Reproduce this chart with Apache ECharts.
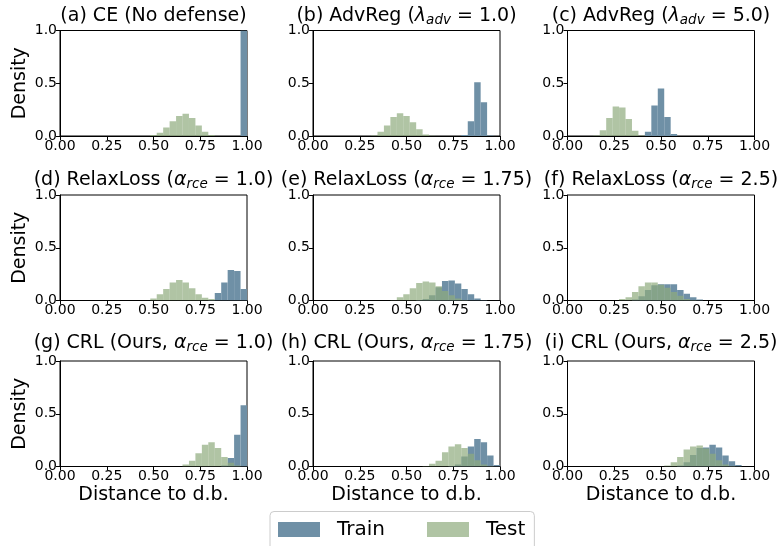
<!DOCTYPE html>
<html>
<head>
<meta charset="utf-8">
<script src="https://cdn.jsdelivr.net/npm/echarts@6/dist/echarts.min.js"></script>
<style>
html,body{margin:0;padding:0;background:#fff;}
#chart{width:778px;height:546px;}
</style>
</head>
<body>
<div id="chart"></div>
<script>
// ---- data: histogram heights per bin (29 bins on [0,1]) ----
const binCount = 29;
const xTicks = ['0.00', '0.25', '0.50', '0.75', '1.00'];
const yTicks = ['0.0', '0.5', '1.0'];
const seriesNames = ['Train', 'Test'];

const aTrain = [0,0,0,0,0,0,0,0,0,0, 0,0,0,0,0,0,0,0,0,0, 0,0,0,0,0,0,0,0,1.0];
const aTest  = [0,0,0,0,0,0,0,0,0,0, 0,0,0,0,0.01,0.03,0.08,0.14,0.19,0.21, 0.17,0.10,0.04,0.01,0,0,0,0,0];

const bTrain = [0,0,0,0,0,0,0,0,0,0, 0,0,0,0,0,0,0,0,0,0, 0,0,0,0.01,0.14,0.51,0.32,0.005,0];
const bTest  = [0,0,0,0,0,0,0,0,0,0.005, 0.04,0.10,0.18,0.215,0.19,0.13,0.065,0.015,0.003,0, 0,0,0,0,0,0,0,0,0];

const cTrain = [0,0,0,0,0,0,0,0,0,0, 0,0,0.04,0.29,0.45,0.18,0.02,0,0,0, 0,0,0,0,0,0,0,0,0];
const cTest  = [0,0,0,0,0.005,0.055,0.17,0.28,0.27,0.16, 0.05,0.005,0,0,0,0,0,0,0,0, 0,0,0,0,0,0,0,0,0];

const dTrain = [0,0,0,0,0,0,0,0,0,0, 0,0,0,0,0,0,0,0,0,0, 0,0,0,0.005,0.07,0.17,0.29,0.28,0.11];
const dTest  = [0,0,0,0,0,0,0,0,0,0, 0,0,0,0,0.02,0.06,0.11,0.17,0.195,0.17, 0.115,0.06,0.025,0.015,0,0,0,0,0];

const eTrain = [0,0,0,0,0,0,0,0,0,0, 0,0,0,0,0,0,0.005,0.015,0.05,0.125, 0.185,0.19,0.16,0.11,0.06,0.02,0.005,0,0];
const eTest  = [0,0,0,0,0,0,0,0,0,0, 0,0,0.005,0.03,0.06,0.115,0.165,0.18,0.17,0.135, 0.09,0.05,0.02,0.005,0,0,0,0,0];

const fTrain = [0,0,0,0,0,0,0,0,0,0, 0.01,0.04,0.10,0.145,0.155,0.155,0.155,0.10,0.065,0.03, 0.01,0,0,0,0,0,0,0,0];
const fTest  = [0,0,0,0,0,0,0,0,0.015,0.03, 0.08,0.135,0.17,0.17,0.15,0.12,0.08,0.045,0.015,0.005, 0,0,0,0,0,0,0,0,0];

const gTrain = [0,0,0,0,0,0,0,0,0,0, 0,0,0,0,0,0,0,0,0,0, 0,0,0,0,0,0.01,0.08,0.30,0.58];
const gTest  = [0,0,0,0,0,0,0,0,0,0, 0,0,0,0,0,0,0,0,0,0.02, 0.055,0.125,0.205,0.23,0.175,0.09,0.035,0.01,0];

const hTrain = [0,0,0,0,0,0,0,0,0,0, 0,0,0,0,0,0,0,0,0,0, 0,0.005,0.02,0.095,0.19,0.26,0.23,0.105,0.015];
const hTest  = [0,0,0,0,0,0,0,0,0,0, 0,0,0,0,0,0,0,0.005,0.025,0.055, 0.135,0.19,0.21,0.175,0.12,0.06,0.02,0.005,0];

const iTrain = [0,0,0,0,0,0,0,0,0,0, 0,0,0,0,0,0,0,0.01,0.04,0.11, 0.175,0.18,0.205,0.18,0.105,0.05,0.015,0,0];
const iTest  = [0,0,0,0,0,0,0,0,0,0, 0,0,0,0,0,0.01,0.04,0.09,0.16,0.19, 0.2,0.17,0.12,0.06,0.02,0.005,0,0,0];

const panels = [
  {title: '(a) CE (No defense)', train: aTrain, test: aTest},
  {title: '(b) AdvReg ({it|λ}{sub|adv} = 1.0)', train: bTrain, test: bTest},
  {title: '(c) AdvReg ({it|λ}{sub|adv} = 5.0)', train: cTrain, test: cTest},
  {title: '(d) RelaxLoss ({it|α}{sub|rce} = 1.0)', train: dTrain, test: dTest},
  {title: '(e) RelaxLoss ({it|α}{sub|rce} = 1.75)', train: eTrain, test: eTest},
  {title: '(f) RelaxLoss ({it|α}{sub|rce} = 2.5)', train: fTrain, test: fTest},
  {title: '(g) CRL (Ours, {it|α}{sub|rce} = 1.0)', train: gTrain, test: gTest},
  {title: '(h) CRL (Ours, {it|α}{sub|rce} = 1.75)', train: hTrain, test: hTest},
  {title: '(i) CRL (Ours, {it|α}{sub|rce} = 2.5)', train: iTrain, test: iTest}
];

// ---- layout & style ----
const FONT = 'DejaVu Sans';
const TRAIN_COLOR = '#6f90a6';
const TEST_COLOR = '#8eab7d';
const TEST_OPACITY = 0.7;
const colLeft = [60, 313, 567.5];
const rowTop = [30.5, 195, 361];
const gw = 187, gh = 105.5;
const titleY = [16, 180, 343];

const edges = [];
for (let k = 0; k <= binCount; k++) edges.push(k / binCount);

function toData(arr) {
  const out = [];
  arr.forEach((h, i) => { if (h > 0) out.push([edges[i], edges[i + 1], h]); });
  return out;
}

function renderItem(params, api) {
  const p0 = api.coord([api.value(0), 0]);
  const p1 = api.coord([api.value(1), Math.min(api.value(2), 1)]);
  return {
    type: 'rect',
    shape: {x: p0[0], y: p1[1], width: p1[0] - p0[0], height: p0[1] - p1[1]},
    style: api.style()
  };
}

const grid = [], xAxis = [], yAxis = [], series = [], graphic = [];
const richTitle = {
  it: {fontFamily: FONT, fontStyle: 'italic', fontSize: 19, color: '#000'},
  sub: {fontFamily: FONT, fontStyle: 'italic', fontSize: 13.5, color: '#000', padding: [8, 0, 0, 0]}
};

panels.forEach((p, idx) => {
  const r = Math.floor(idx / 3), c = idx % 3;
  grid.push({left: colLeft[c], top: rowTop[r], width: gw, height: gh,
    show: true, borderColor: '#000', borderWidth: 1, backgroundColor: 'transparent'});
  xAxis.push({type: 'value', gridIndex: idx, min: 0, max: 1, interval: 0.25,
    name: r === 2 ? 'Distance to d.b.' : '',
    nameLocation: 'middle', nameGap: 19,
    nameTextStyle: {fontFamily: FONT, fontSize: 19, color: '#000'},
    axisLine: {show: true, onZero: false, lineStyle: {color: '#000', width: 1}},
    axisTick: {show: true, length: 4, lineStyle: {color: '#000'}},
    splitLine: {show: false},
    axisLabel: {show: true, color: '#000', fontFamily: FONT, fontSize: 14, margin: 3,
      showMinLabel: true, showMaxLabel: true,
      formatter: v => xTicks[Math.round(v * 4)]}
  });
  yAxis.push({type: 'value', gridIndex: idx, min: 0, max: 1, interval: 0.5,
    name: c === 0 ? 'Density' : '',
    nameLocation: 'middle', nameGap: 30, nameRotate: 90,
    nameTextStyle: {fontFamily: FONT, fontSize: 19, color: '#000'},
    axisLine: {show: true, onZero: false, lineStyle: {color: '#000', width: 1}},
    axisTick: {show: true, length: 4, lineStyle: {color: '#000'}},
    splitLine: {show: false},
    axisLabel: {show: true, color: '#000', fontFamily: FONT, fontSize: 14, margin: 3,
      showMinLabel: true, showMaxLabel: true,
      formatter: v => yTicks[Math.round(v * 2)]}
  });
  series.push({type: 'custom', name: seriesNames[0], xAxisIndex: idx, yAxisIndex: idx,
    renderItem: renderItem, clip: true, encode: {x: [0, 1], y: 2},
    itemStyle: {color: TRAIN_COLOR}, data: toData(p.train), silent: true});
  series.push({type: 'custom', name: seriesNames[1], xAxisIndex: idx, yAxisIndex: idx,
    renderItem: renderItem, clip: true, encode: {x: [0, 1], y: 2},
    itemStyle: {color: TEST_COLOR, opacity: TEST_OPACITY}, data: toData(p.test), silent: true});
  graphic.push({type: 'text', x: colLeft[c] + gw / 2, y: titleY[r],
    style: {text: p.title, fontFamily: FONT, fontSize: 19, fill: '#000',
      align: 'center', verticalAlign: 'middle', rich: richTitle}});
});

const chart = echarts.init(document.getElementById('chart'), null, {renderer: 'canvas'});
chart.setOption({
  animation: false,
  backgroundColor: '#fff',
  grid, xAxis, yAxis, series, graphic,
  legend: {
    left: 270, top: 511.5,
    padding: [8, 9, 14, 8],
    borderColor: '#cccccc', borderWidth: 1, borderRadius: 4,
    backgroundColor: '#fff',
    itemWidth: 42, itemHeight: 15, itemGap: 42,
    icon: 'rect',
    selectedMode: false,
    textStyle: {fontFamily: FONT, fontSize: 20, color: '#000', padding: [0, 0, 0, 12]},
    data: [
      {name: seriesNames[0], itemStyle: {color: TRAIN_COLOR, opacity: 1}},
      {name: seriesNames[1], itemStyle: {color: '#b0c4a4', opacity: 1}}
    ]
  }
});
</script>
</body>
</html>
